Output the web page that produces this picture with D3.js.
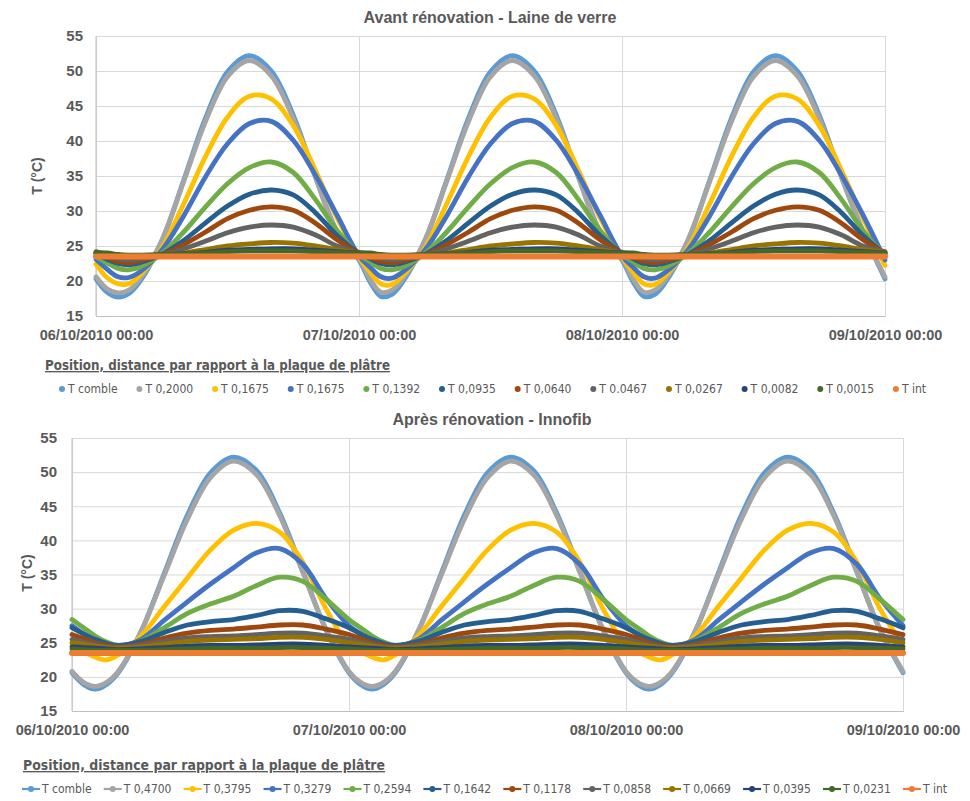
<!DOCTYPE html>
<html>
<head>
<meta charset="utf-8">
<script src="https://cdn.jsdelivr.net/npm/d3@7"></script>
<style>
  html, body { margin: 0; padding: 0; background: #fff; }
  svg { display: block; }
  .tick text { font-family: "Liberation Sans", Arial, sans-serif; font-weight: bold; fill: #595959; }
</style>
</head>
<body>
<svg id="chart" width="970" height="801"></svg>
<script>
// ---------- shared ----------
const seriesColors = ["#5B9BD5", "#A5A5A5", "#FFC000", "#4472C4", "#70AD47", "#255E91",
                      "#9E480E", "#636363", "#997300", "#264478", "#43682B", "#ED7D31"];
const yTicks = [15, 20, 25, 30, 35, 40, 45, 50, 55];
const xTickHours = [0, 24, 48, 72];
const xTickLabels = ["06/10/2010 00:00", "07/10/2010 00:00", "08/10/2010 00:00", "09/10/2010 00:00"];
const legendTitle = "Position, distance par rapport à la plaque de plâtre";

// ---------- Avant rénovation - Laine de verre ----------
const titleTop = "Avant rénovation - Laine de verre";
const namesTop = ["T comble", "T 0,2000", "T 0,1675", "T 0,1675", "T 0,1392", "T 0,0935",
                  "T 0,0640", "T 0.0467", "T 0,0267", "T 0,0082", "T 0,0015", "T int"];
const hoursTop = [0,1,2,3,4,6,8,10,12,14,16,18,20,22,
                  24,25,26,27,28,30,32,34,36,38,40,42,44,46,
                  48,49,50,51,52,54,56,58,60,62,64,66,68,70,
                  72];
const topComble = [20.3,18.4,17.7,18.2,19.9,25.7,34.4,43.3,49.9,52.2,50.0,43.7,35.0,27.1,
                   23.0,19.9,17.8,18.1,19.9,25.7,34.4,43.3,49.9,52.2,50.0,43.7,35.0,27.1,
                   23.0,19.9,17.8,18.1,19.9,25.7,34.4,43.3,49.9,52.2,50.0,43.7,35.0,27.1,
                   20.3];
const top2000 =   [20.6,18.9,18.3,18.7,20.3,25.8,34.2,42.8,49.2,51.5,49.3,43.2,34.9,27.0,
                   23.3,20.3,18.4,18.7,20.3,25.8,34.2,42.8,49.2,51.5,49.3,43.2,34.9,27.0,
                   23.3,20.3,18.4,18.7,20.3,25.8,34.2,42.8,49.2,51.5,49.3,43.2,34.9,27.0,
                   20.6];
const top1675a =  [22.4,20.5,19.6,19.6,20.8,24.7,31.0,37.8,43.4,46.4,46.0,42.2,35.9,29.0,
                   23.4,21.3,19.6,19.5,20.8,24.7,31.0,37.8,43.4,46.4,46.0,42.2,35.9,29.0,
                   23.4,21.3,19.6,19.5,20.8,24.7,31.0,37.8,43.4,46.4,46.0,42.2,35.9,29.0,
                   22.2];
const top1675b =  [23.1,21.7,20.6,20.5,21.3,24.4,29.3,34.9,39.6,42.5,42.8,40.1,35.2,29.4,
                   23.6,22.0,20.6,20.4,21.3,24.4,29.3,34.9,39.6,42.5,42.8,40.1,35.2,29.4,
                   23.6,22.0,20.6,20.4,21.3,24.4,29.3,34.9,39.6,42.5,42.8,40.1,35.2,29.4,
                   23.0];
const top1392 =   [23.5,22.6,21.8,21.6,22.0,23.9,27.0,30.6,33.9,36.2,37.0,35.5,31.7,27.2,
                   23.8,22.8,21.8,21.6,22.0,23.9,27.0,30.6,33.9,36.2,37.0,35.5,31.7,27.2,
                   23.8,22.8,21.8,21.6,22.0,23.9,27.0,30.6,33.9,36.2,37.0,35.5,31.7,27.2,
                   23.6];
const top0935 =   [23.8,23.1,22.5,22.3,22.6,23.8,25.8,28.3,30.7,32.4,33.0,32.3,29.8,26.5,
                   24.0,23.2,22.5,22.3,22.6,23.8,25.8,28.3,30.7,32.4,33.0,32.3,29.8,26.5,
                   24.0,23.2,22.5,22.3,22.6,23.8,25.8,28.3,30.7,32.4,33.0,32.3,29.8,26.5,
                   23.8];
const top0640 =   [24.0,23.4,22.8,22.6,22.9,23.7,25.2,27.0,28.9,30.1,30.6,30.1,28.3,25.9,
                   24.0,23.4,22.8,22.6,22.9,23.7,25.2,27.0,28.9,30.1,30.6,30.1,28.3,25.9,
                   24.0,23.4,22.8,22.6,22.9,23.7,25.2,27.0,28.9,30.1,30.6,30.1,28.3,25.9,
                   24.0];
const top0467 =   [24.2,23.7,23.2,23.0,23.2,23.7,24.6,25.7,26.9,27.7,28.0,27.7,26.6,25.0,
                   24.0,23.6,23.2,23.0,23.2,23.7,24.6,25.7,26.9,27.7,28.0,27.7,26.6,25.0,
                   24.0,23.6,23.2,23.0,23.2,23.7,24.6,25.7,26.9,27.7,28.0,27.7,26.6,25.0,
                   24.2];
const top0267 =   [24.1,23.8,23.5,23.4,23.4,23.6,24.0,24.5,25.0,25.3,25.5,25.4,25.0,24.5,
                   24.0,23.9,23.5,23.4,23.4,23.6,24.0,24.5,25.0,25.3,25.5,25.4,25.0,24.5,
                   24.0,23.9,23.5,23.4,23.4,23.6,24.0,24.5,25.0,25.3,25.5,25.4,25.0,24.5,
                   24.1];
const top0082 =   [24.0,23.9,23.7,23.6,23.6,23.7,23.9,24.1,24.4,24.5,24.6,24.6,24.4,24.2,
                   24.0,23.9,23.7,23.6,23.6,23.7,23.9,24.1,24.4,24.5,24.6,24.6,24.4,24.2,
                   24.0,23.9,23.7,23.6,23.6,23.7,23.9,24.1,24.4,24.5,24.6,24.6,24.4,24.2,
                   24.0];
const top0015 =   [24.0,24.0,23.8,23.7,23.7,23.8,23.9,24.0,24.2,24.3,24.3,24.3,24.2,24.1,
                   24.0,24.0,23.8,23.7,23.7,23.8,23.9,24.0,24.2,24.3,24.3,24.3,24.2,24.1,
                   24.0,24.0,23.8,23.7,23.7,23.8,23.9,24.0,24.2,24.3,24.3,24.3,24.2,24.1,
                   24.0];
const topInt =    [23.5,23.5,23.5,23.5,23.5,23.5,23.5,23.5,23.5,23.5,23.5,23.5,23.5,23.5,
                   23.5,23.5,23.5,23.5,23.5,23.5,23.5,23.5,23.5,23.5,23.5,23.5,23.5,23.5,
                   23.5,23.5,23.5,23.5,23.5,23.5,23.5,23.5,23.5,23.5,23.5,23.5,23.5,23.5,
                   23.5];
const valuesTop = [topComble, top2000, top1675a, top1675b, top1392, top0935,
                   top0640, top0467, top0267, top0082, top0015, topInt];

// ---------- Après rénovation - Innofib ----------
const titleBottom = "Après rénovation - Innofib";
const namesBottom = ["T comble", "T 0,4700", "T 0,3795", "T 0,3279", "T 0,2594", "T 0,1642",
                     "T 0,1178", "T 0,0858", "T 0,0669", "T 0,0395", "T 0,0231", "T int"];
const hoursBottom = [0,1,2,3,4,6,8,10,12,14,16,18,20,22,
                     24,25,26,27,28,30,32,34,36,38,40,42,44,46,
                     48,49,50,51,52,54,56,58,60,62,64,66,68,70,
                     72];
const botComble = [20.6,18.9,18.2,18.9,20.6,26.7,35.2,43.7,49.9,52.2,50.2,44.0,35.5,26.9,
                   20.6,18.9,18.2,18.9,20.6,26.7,35.2,43.7,49.9,52.2,50.2,44.0,35.5,26.9,
                   20.6,18.9,18.2,18.9,20.6,26.7,35.2,43.7,49.9,52.2,50.2,44.0,35.5,26.9,
                   20.6];
const bot4700 =   [20.8,19.2,18.6,19.2,20.8,26.7,34.9,43.1,49.2,51.6,49.6,43.6,35.3,27.0,
                   20.8,19.2,18.6,19.2,20.8,26.7,34.9,43.1,49.2,51.6,49.6,43.6,35.3,27.0,
                   20.8,19.2,18.6,19.2,20.8,26.7,34.9,43.1,49.2,51.6,49.6,43.6,35.3,27.0,
                   20.8];
const bot3795 =   [24.6,23.7,22.9,22.5,23.2,26.0,30.3,34.5,38.6,41.5,42.5,41.2,36.8,30.0,
                   24.6,23.7,22.9,22.5,23.2,26.0,30.3,34.5,38.6,41.5,42.5,41.2,36.8,30.0,
                   24.6,23.7,22.9,22.5,23.2,26.0,30.3,34.5,38.6,41.5,42.5,41.2,36.8,30.0,
                   24.6];
const bot3279 =   [27.5,26.3,25.3,24.7,24.5,25.5,28.3,31.0,33.6,36.0,38.2,38.8,36.5,31.5,
                   27.5,26.3,25.3,24.7,24.5,25.5,28.3,31.0,33.6,36.0,38.2,38.8,36.5,31.5,
                   27.5,26.3,25.3,24.7,24.5,25.5,28.3,31.0,33.6,36.0,38.2,38.8,36.5,31.5,
                   27.5];
const bot2594 =   [28.4,27.2,26.0,25.1,24.6,25.3,27.2,29.3,30.7,31.8,33.4,34.6,34.0,31.4,
                   28.4,27.2,26.0,25.1,24.6,25.3,27.2,29.3,30.7,31.8,33.4,34.6,34.0,31.4,
                   28.4,27.2,26.0,25.1,24.6,25.3,27.2,29.3,30.7,31.8,33.4,34.6,34.0,31.4,
                   28.4];
const bot1642 =   [27.2,26.3,25.5,24.9,24.6,25.2,26.5,27.6,28.1,28.4,29.0,29.7,29.6,28.5,
                   27.2,26.3,25.5,24.9,24.6,25.2,26.5,27.6,28.1,28.4,29.0,29.7,29.6,28.5,
                   27.2,26.3,25.5,24.9,24.6,25.2,26.5,27.6,28.1,28.4,29.0,29.7,29.6,28.5,
                   27.2];
const bot1178 =   [26.2,25.6,25.0,24.6,24.4,24.8,25.7,26.4,26.8,27.0,27.3,27.6,27.6,27.0,
                   26.2,25.6,25.0,24.6,24.4,24.8,25.7,26.4,26.8,27.0,27.3,27.6,27.6,27.0,
                   26.2,25.6,25.0,24.6,24.4,24.8,25.7,26.4,26.8,27.0,27.3,27.6,27.6,27.0,
                   26.2];
const bot0858 =   [25.5,25.1,24.7,24.4,24.3,24.6,25.2,25.7,25.9,26.0,26.2,26.4,26.4,26.0,
                   25.5,25.1,24.7,24.4,24.3,24.6,25.2,25.7,25.9,26.0,26.2,26.4,26.4,26.0,
                   25.5,25.1,24.7,24.4,24.3,24.6,25.2,25.7,25.9,26.0,26.2,26.4,26.4,26.0,
                   25.5];
const bot0669 =   [25.0,24.8,24.5,24.3,24.2,24.4,24.8,25.2,25.4,25.5,25.6,25.8,25.8,25.5,
                   25.0,24.8,24.5,24.3,24.2,24.4,24.8,25.2,25.4,25.5,25.6,25.8,25.8,25.5,
                   25.0,24.8,24.5,24.3,24.2,24.4,24.8,25.2,25.4,25.5,25.6,25.8,25.8,25.5,
                   25.0];
const bot0395 =   [24.4,24.3,24.2,24.1,24.0,24.1,24.3,24.5,24.6,24.6,24.7,24.8,24.8,24.6,
                   24.4,24.3,24.2,24.1,24.0,24.1,24.3,24.5,24.6,24.6,24.7,24.8,24.8,24.6,
                   24.4,24.3,24.2,24.1,24.0,24.1,24.3,24.5,24.6,24.6,24.7,24.8,24.8,24.6,
                   24.4];
const bot0231 =   [24.1,24.0,23.9,23.9,23.9,23.9,24.0,24.1,24.2,24.2,24.2,24.3,24.3,24.2,
                   24.1,24.0,23.9,23.9,23.9,23.9,24.0,24.1,24.2,24.2,24.2,24.3,24.3,24.2,
                   24.1,24.0,23.9,23.9,23.9,23.9,24.0,24.1,24.2,24.2,24.2,24.3,24.3,24.2,
                   24.1];
const botInt =    [23.5,23.5,23.5,23.5,23.5,23.5,23.5,23.5,23.5,23.5,23.5,23.5,23.5,23.5,
                   23.5,23.5,23.5,23.5,23.5,23.5,23.5,23.5,23.5,23.5,23.5,23.5,23.5,23.5,
                   23.5,23.5,23.5,23.5,23.5,23.5,23.5,23.5,23.5,23.5,23.5,23.5,23.5,23.5,
                   23.5];
const valuesBottom = [botComble, bot4700, bot3795, bot3279, bot2594, bot1642,
                      bot1178, bot0858, bot0669, bot0395, bot0231, botInt];

// ---------- drawing ----------
const svg = d3.select("#chart");
svg.append("rect").attr("width", 970).attr("height", 801).attr("fill", "#fff");

function drawPanel(cfg) {
  const x = d3.scaleLinear().domain([0, 72]).range([cfg.left, cfg.right]);
  const y = d3.scaleLinear().domain([15, 55]).range([cfg.bottom, cfg.top]);
  const g = svg.append("g");

  // horizontal grid + y labels
  const yAxis = g.append("g")
    .attr("transform", `translate(${cfg.left},0)`)
    .call(d3.axisLeft(y).tickValues(yTicks).tickSize(-(cfg.right - cfg.left)).tickPadding(cfg.yPad));
  yAxis.select(".domain").remove();
  yAxis.selectAll(".tick line").attr("stroke", "#D9D9D9").attr("stroke-width", 1);
  yAxis.selectAll(".tick text").style("font-size", "15px");

  // vertical grid + date labels
  const xAxis = g.append("g")
    .attr("transform", `translate(0,${cfg.bottom})`)
    .call(d3.axisBottom(x).tickValues(xTickHours)
      .tickFormat((d, i) => xTickLabels[i])
      .tickSize(-(cfg.bottom - cfg.top)).tickPadding(cfg.xPad));
  xAxis.select(".domain").attr("stroke", "#BFBFBF");
  xAxis.selectAll(".tick line").attr("stroke", "#D9D9D9").attr("stroke-width", 1);
  xAxis.selectAll(".tick text").style("font-size", "14.5px");
  g.append("line").attr("x1", cfg.left).attr("x2", cfg.left)
    .attr("y1", cfg.top).attr("y2", cfg.bottom).attr("stroke", "#BFBFBF");

  // series
  const line = d3.line()
    .x(d => x(d[0])).y(d => y(d[1]))
    .curve(d3.curveCatmullRom.alpha(0.5));
  cfg.values.forEach((vals, i) => {
    const pts = cfg.hours.map((h, j) => [h, vals[j]]);
    g.append("path")
      .attr("d", line(pts))
      .attr("fill", "none")
      .attr("stroke", seriesColors[i])
      .attr("stroke-width", i === 11 ? 6 : 4.8)
      .attr("stroke-linecap", "round")
      .attr("stroke-linejoin", "round");
  });

  // title
  g.append("text")
    .attr("x", (cfg.titleX)).attr("y", cfg.titleY)
    .attr("text-anchor", "middle")
    .style("font-family", "'Liberation Sans', Arial, sans-serif")
    .style("font-weight", "bold").style("font-size", "16px")
    .attr("fill", "#595959")
    .text(cfg.title);

  // y axis title
  g.append("text")
    .attr("transform", `translate(${cfg.yTitleX},${cfg.yTitleY}) rotate(-90)`)
    .attr("text-anchor", "middle")
    .style("font-family", "'Liberation Sans', Arial, sans-serif")
    .style("font-weight", "bold").style("font-size", "14px")
    .attr("fill", "#595959")
    .text("T (°C)");

  // legend title
  g.append("text")
    .attr("x", cfg.legTitleX).attr("y", cfg.legTitleY)
    .attr("textLength", cfg.legTitleW).attr("lengthAdjust", "spacingAndGlyphs")
    .style("font-family", "'Liberation Sans Narrow', 'DejaVu Sans Condensed', Arial, sans-serif")
    .style("font-weight", "bold").style("font-size", "13.5px")
    .style("text-decoration", "underline")
    .attr("fill", "#595959")
    .text(legendTitle);

  // legend entries
  const leg = g.append("g");
  const items = cfg.names.map((name, i) => {
    const it = leg.append("g");
    if (cfg.lineMarkers) {
      it.append("line").attr("x1", 0).attr("x2", 18).attr("y1", 0).attr("y2", 0)
        .attr("stroke", seriesColors[i]).attr("stroke-width", 2.2);
      it.append("circle").attr("cx", 9).attr("cy", 0).attr("r", 3).attr("fill", seriesColors[i]);
    } else {
      it.append("circle").attr("cx", 3).attr("cy", 0).attr("r", 3).attr("fill", seriesColors[i]);
    }
    const t = it.append("text")
      .attr("x", cfg.lineMarkers ? 20 : 9).attr("y", 4)
      .style("font-family", "'Liberation Sans Narrow', 'DejaVu Sans Condensed', Arial, sans-serif")
      .style("font-size", "12px")
      .attr("fill", "#595959")
      .text(name);
    return { it, w: (cfg.lineMarkers ? 20 : 9) + t.node().getComputedTextLength() };
  });
  const total = d3.sum(items, d => d.w);
  const gap = (cfg.legRight - cfg.legLeft - total) / (items.length - 1);
  let cx = cfg.legLeft;
  items.forEach(d => {
    d.it.attr("transform", `translate(${cx},${cfg.legY})`);
    cx += d.w + gap;
  });
}

drawPanel({
  left: 96, right: 885, top: 36, bottom: 316,
  yPad: 13, xPad: 14,
  hours: hoursTop, values: valuesTop, names: namesTop,
  title: titleTop, titleX: 490, titleY: 23,
  yTitleX: 42, yTitleY: 176,
  legTitleX: 45, legTitleY: 370, legTitleW: 345,
  legLeft: 59, legRight: 926, legY: 389, lineMarkers: false
});

drawPanel({
  left: 72, right: 903, top: 438, bottom: 711,
  yPad: 15, xPad: 14,
  hours: hoursBottom, values: valuesBottom, names: namesBottom,
  title: titleBottom, titleX: 492, titleY: 425,
  yTitleX: 32, yTitleY: 573,
  legTitleX: 23, legTitleY: 770, legTitleW: 362,
  legLeft: 22, legRight: 947, legY: 789, lineMarkers: true
});
</script>
</body>
</html>
